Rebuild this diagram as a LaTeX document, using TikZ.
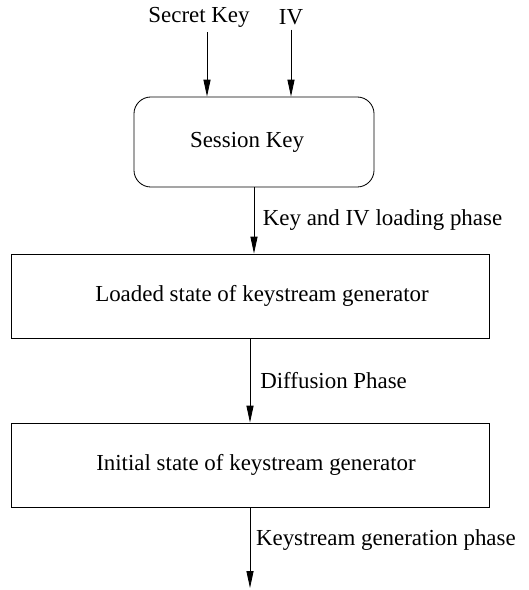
\documentclass[tikz,border=0pt]{standalone}
\usepackage{fontspec}
\setmainfont{Liberation Serif}
\usetikzlibrary{arrows.meta}

\tikzset{
    phasebox/.style={draw, line width=0.6pt, minimum width=11.95cm, minimum height=2.1cm},
    arr/.style={line width=0.6pt, -{Triangle[length=12pt,width=5pt]}},
    phaselabel/.style={right, inner sep=0pt, xshift=7pt}
}

\begin{document}
\begin{tikzpicture}[x=0.025cm, y=-0.025cm, font=\fontsize{16.3}{19}\selectfont]
    \useasboundingbox (0,0) rectangle (528,590);

    % Inputs
    \node (skey) at (199,17) {Secret Key};
    \node (iv) at (291,17) {IV};

    % Draw the boxes
    \node[draw, line width=0.6pt, rounded corners=12pt, minimum width=6cm, minimum height=2.25cm] (session) at (254,142) {Session Key\hspace{0.35cm}\null};
    \node[phasebox] (loaded) at (250,296) {\hspace{0.6cm}Loaded state of keystream generator};
    \node[phasebox] (initial) at (250,465) {\hspace{0.3cm}Initial state of keystream generator};
    \coordinate (out) at (250,588);

    % Arrows and phase names
    \draw[arr] ([xshift=0.2cm]skey.south) -- ([xshift=0.2cm]skey.south |- session.north);
    \draw[arr] (iv.south) -- (iv.south |- session.north);
    \draw[arr] (session.south) -- node[phaselabel, xshift=-1pt] {Key and IV loading phase} (session.south |- loaded.north);
    \draw[arr] (loaded.south) -- node[phaselabel] {Diffusion Phase} (initial.north);
    \draw[arr] (initial.south) -- node[phaselabel, pos=0.4, xshift=-3pt] {Keystream generation phase} (out);
\end{tikzpicture}
\end{document}
